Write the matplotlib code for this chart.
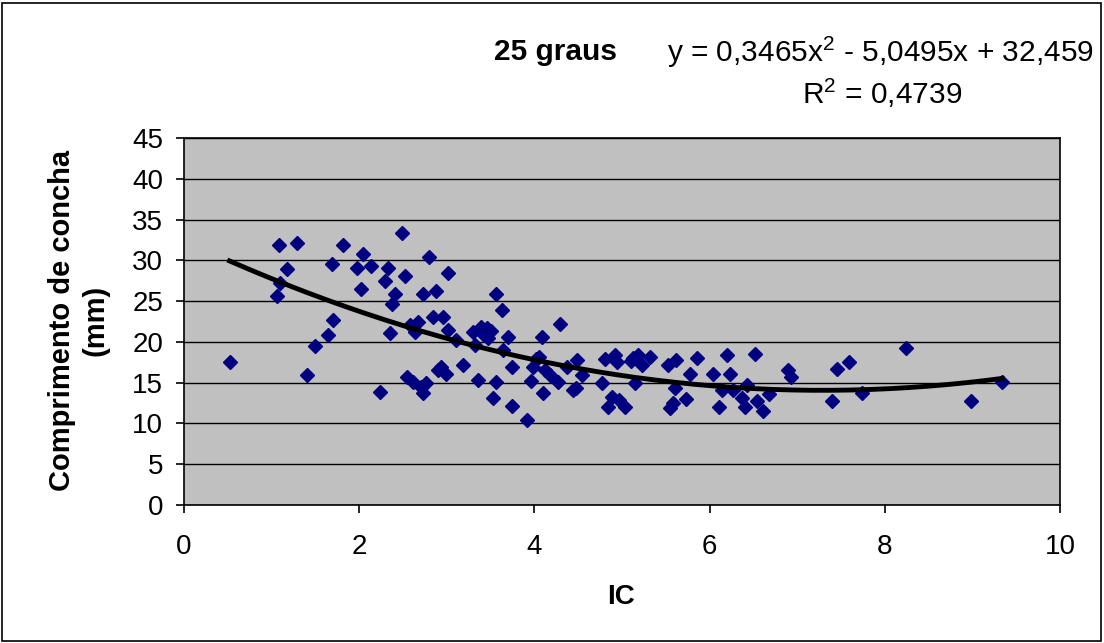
import numpy as np
import matplotlib.pyplot as plt
from matplotlib.patches import Rectangle

plt.rcParams['font.family'] = ['Liberation Sans', 'DejaVu Sans']
plt.rcParams['mathtext.fontset'] = 'custom'
plt.rcParams['mathtext.rm'] = 'Liberation Sans'
plt.rcParams['mathtext.it'] = 'Liberation Sans:italic'
plt.rcParams['mathtext.bf'] = 'Liberation Sans:bold'

# IC vs shell length (mm), 25 graus
ic = [0.52, 1.08, 1.29, 1.18, 1.10, 1.06, 1.50, 1.40, 1.64, 1.70,
      1.69, 1.82, 1.97, 2.02, 2.04, 2.13, 2.24, 2.29, 2.33, 2.35,
      2.37, 2.41, 2.49, 2.52, 2.55, 2.58, 2.61, 2.64, 2.67, 2.71,
      2.73, 2.76, 2.73, 2.80, 2.84, 2.88, 2.96, 2.93, 2.99, 3.01,
      3.01, 3.11, 3.18, 3.30, 3.32, 3.36, 3.39, 3.46, 3.47, 3.53,
      3.56, 3.63, 3.64, 3.70, 3.74, 3.74, 3.92, 3.96, 3.98, 4.05,
      4.09, 4.10, 4.12, 4.18, 4.27, 4.29, 4.37, 4.44, 4.49, 4.54,
      4.77, 4.81, 4.84, 4.89, 4.92, 4.94, 4.97, 5.03, 5.13, 5.15,
      5.18, 5.23, 5.32, 5.53, 5.55, 5.58, 5.61, 5.62, 5.73, 5.78,
      5.86, 6.04, 6.11, 6.14, 6.20, 6.23, 6.27, 6.37, 6.40, 6.43,
      6.52, 6.54, 6.61, 6.68, 6.89, 6.93, 7.40, 7.45, 7.59, 7.74,
      8.24, 8.98, 9.34, 3.56, 3.42, 4.47, 5.10, 4.02, 2.90, 3.50]
comprimento = [17.5, 31.9, 32.1, 28.9, 27.2, 25.6, 19.5, 15.9, 20.8, 22.7,
               29.5, 31.9, 29.1, 26.5, 30.8, 29.3, 13.9, 27.5, 29.1, 21.1,
               24.6, 25.9, 33.4, 28.1, 15.7, 22.1, 15.1, 21.2, 22.4, 14.5,
               13.7, 15.0, 25.9, 30.4, 23.1, 26.2, 23.1, 16.9, 16.1, 28.4,
               21.5, 20.2, 17.2, 21.2, 19.6, 15.3, 21.8, 21.7, 20.5, 13.1,
               15.1, 23.9, 19.0, 20.6, 16.9, 12.1, 10.4, 15.2, 16.9, 18.1,
               20.6, 13.7, 16.6, 15.9, 15.1, 22.2, 16.9, 14.1, 17.8, 15.9,
               15.0, 17.9, 12.0, 13.2, 18.4, 17.5, 12.9, 12.0, 18.0, 15.0,
               18.4, 17.2, 18.1, 17.2, 11.9, 12.5, 14.3, 17.8, 13.0, 16.1,
               18.0, 16.1, 12.0, 14.1, 18.4, 16.1, 14.1, 13.1, 12.0, 14.7,
               18.5, 12.8, 11.5, 13.6, 16.6, 15.7, 12.8, 16.7, 17.5, 13.7,
               19.2, 12.8, 15.1, 25.9, 20.9, 14.3, 17.6, 17.9, 16.5, 21.3]

# polynomial trend (order 2)
a2, a1, a0 = 0.3465, -5.0495, 32.459
r2 = 0.4739

fig = plt.figure(figsize=(11.04, 6.43), dpi=100)
fig.patches.append(Rectangle((0.002, 0.003), 0.995, 0.993, transform=fig.transFigure,
                             fill=False, edgecolor='black', linewidth=1.2))
ax = fig.add_axes([184 / 1104, 1 - 505 / 643, 876 / 1104, 367 / 643])
ax.set_facecolor('#c0c0c0')

ax.set_xlim(0, 10)
ax.set_ylim(0, 45)
ax.set_xticks(np.arange(0, 11, 2))
ax.set_yticks(np.arange(0, 46, 5))
ax.yaxis.grid(True, color='black', linewidth=1)
ax.set_axisbelow(True)
for sp in ax.spines.values():
    sp.set_color('black')
    sp.set_linewidth(1.2)
ax.tick_params(labelsize=20, length=6, width=1.2, direction='out')
ax.tick_params(axis='x', pad=15)
ax.tick_params(axis='y', pad=9)

ax.plot(ic, comprimento, linestyle='none', marker='D', markersize=6.8,
        color='#000080', zorder=3)

xs = np.linspace(min(ic), max(ic), 200)
ax.plot(xs, a2 * xs ** 2 + a1 * xs + a0, color='black', linewidth=3.5, zorder=4)

ax.set_xlabel('IC', fontsize=20, fontweight='bold')
ax.xaxis.set_label_coords(0.499, -0.215)
ax.set_ylabel('Comprimento de concha\n(mm)', fontsize=21, fontweight='bold',
              linespacing=1.25)
ax.yaxis.set_label_coords(-0.085, 0.504)

fig.text(556 / 1104, 1 - 52 / 643, '25 graus', fontsize=21.5, fontweight='bold',
         ha='center', va='center')
fig.text(880 / 1104, 1 - 52 / 643,
         'y = 0,3465x$^2$ - 5,0495x + 32,459', fontsize=21.5,
         ha='center', va='center')
fig.text(882 / 1104, 1 - 93 / 643, 'R$^2$ = 0,4739', fontsize=21.5,
         ha='center', va='center')

fig.savefig('out.png', dpi=100)
